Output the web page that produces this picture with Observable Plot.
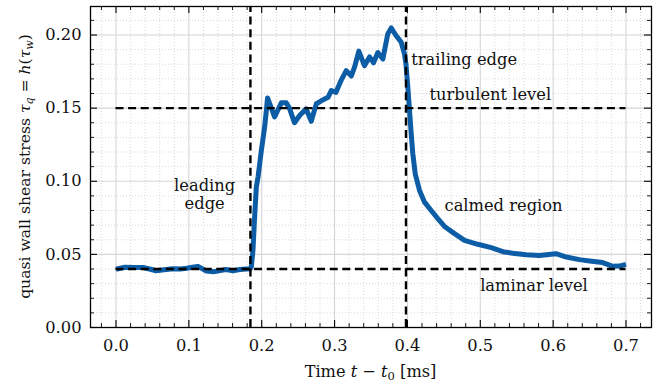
<!DOCTYPE html>
<html>
<head>
<meta charset="utf-8">
<script src="https://cdn.jsdelivr.net/npm/d3@7"></script>
<script src="https://cdn.jsdelivr.net/npm/@observablehq/plot@0.6"></script>
<style>
  html, body { margin: 0; padding: 0; background: #fff; }
  #chart svg { display: block; }
</style>
</head>
<body>
<div id="chart"></div>
<script>
// ---- data ----
const time = [0, 0.012, 0.025, 0.037, 0.046, 0.055, 0.066, 0.078, 0.088, 0.097, 0.105, 0.1125, 0.124, 0.135, 0.143, 0.151, 0.1605, 0.170, 0.179, 0.184,
  0.1857, 0.188, 0.190, 0.1926, 0.195, 0.1995, 0.204, 0.2063, 0.208, 0.2177, 0.2269, 0.2337, 0.238, 0.245, 0.252, 0.261, 0.268, 0.275, 0.2817, 0.291,
  0.2955, 0.302, 0.309, 0.316, 0.323, 0.3274, 0.3333, 0.341, 0.348, 0.3535, 0.3594, 0.3663, 0.373, 0.3778, 0.3846, 0.3915, 0.396, 0.398, 0.4006, 0.4029,
  0.4052, 0.4074, 0.4107, 0.4166, 0.4235, 0.4326, 0.4417, 0.4509, 0.4646, 0.4783, 0.4966, 0.515, 0.533, 0.5446, 0.563, 0.581, 0.604, 0.618, 0.636, 0.650,
  0.668, 0.682, 0.691, 0.700];
const shear = [0.0398, 0.0412, 0.0410, 0.0410, 0.0400, 0.0388, 0.0395, 0.0402, 0.0400, 0.0405, 0.0412, 0.0418, 0.0386, 0.0382, 0.0390, 0.0396, 0.0388, 0.0396, 0.0400, 0.0402,
  0.0414, 0.0528, 0.0730, 0.0960, 0.1030, 0.1210, 0.1370, 0.1480, 0.1570, 0.1440, 0.1536, 0.1536, 0.1500, 0.1400, 0.1450, 0.1495, 0.1410, 0.1530, 0.1550, 0.1574,
  0.1620, 0.1608, 0.1690, 0.1756, 0.1720, 0.1780, 0.1890, 0.1790, 0.1850, 0.1810, 0.1880, 0.1836, 0.2007, 0.2048, 0.1995, 0.1950, 0.1870, 0.1800, 0.1640, 0.1483,
  0.1324, 0.1188, 0.1051, 0.0937, 0.0857, 0.0800, 0.0744, 0.0691, 0.0642, 0.0596, 0.0569, 0.0546, 0.0516, 0.0508, 0.0498, 0.0493, 0.0505, 0.0482, 0.0464, 0.0455,
  0.0444, 0.0418, 0.0420, 0.0432];

const levelValues = [0.15, 0.04];        // turbulent level, laminar level
const levelSpan = [0, 0.7];              // extent of the level lines
const edgeTimes = [0.1845, 0.398];       // leading edge, trailing edge

const xTicks = [0, 0.1, 0.2, 0.3, 0.4, 0.5, 0.6, 0.7];
const xTickLabels = ["0.0", "0.1", "0.2", "0.3", "0.4", "0.5", "0.6", "0.7"];
const yTicks = [0, 0.05, 0.10, 0.15, 0.20];
const yTickLabels = ["0.00", "0.05", "0.10", "0.15", "0.20"];

const annoText = ["leading", "edge", "trailing edge", "turbulent level", "calmed region", "laminar level"];
const annoX = [0.1217, 0.1217, 0.4052, 0.4303, 0.4509, 0.4998];
const annoY = [0.0969, 0.0846, 0.183, 0.1591, 0.0835, 0.0285];
const annoAnchor = ["middle", "middle", "start", "start", "start", "start"];

// ---- layout ----
const W = 671, H = 388;
const mL = 90, mR = 20, mT = 6, mB = 61;
const plotW = W - mL - mR, plotH = H - mT - mB;
const xDomain = [-0.035, 0.735];
const yDomain = [0, 0.2195];

const series = time.map((t, i) => ({t, v: shear[i]}));
const annos = annoText.map((s, i) => ({s, x: annoX[i], y: annoY[i], a: annoAnchor[i]}));

const isMajor = (v, step) => Math.abs(v / step - Math.round(v / step)) < 1e-6;
const xMinor = d3.range(-1, 37).map(i => +(i * 0.02).toFixed(4)).filter(v => !isMajor(v, 0.1));
const yMinor = d3.range(0, 22).map(i => +(i * 0.01).toFixed(4)).filter(v => !isMajor(v, 0.05));

const fontFamily = "'DejaVu Serif', serif";
const ink = "#000";
const fs = 16.3;

const chart = Plot.plot({
  width: W,
  height: H,
  marginLeft: mL,
  marginRight: mR,
  marginTop: mT,
  marginBottom: mB,
  style: {fontFamily, fontSize: fs + "px", background: "#fff", color: "#111", overflow: "visible"},
  x: {domain: xDomain},
  y: {domain: yDomain},
  marks: [
    // minor grid (dotted)
    Plot.gridX(xMinor, {stroke: "#cfcfcf", strokeOpacity: 1, strokeWidth: 0.8, strokeDasharray: "1,2"}),
    Plot.gridY(yMinor, {stroke: "#cfcfcf", strokeOpacity: 1, strokeWidth: 0.8, strokeDasharray: "1,2"}),
    // major grid (solid)
    Plot.gridX(xTicks, {stroke: "#d6d6d6", strokeOpacity: 1, strokeWidth: 1.1}),
    Plot.gridY(yTicks, {stroke: "#d6d6d6", strokeOpacity: 1, strokeWidth: 1.1}),
    // the signal
    Plot.line(series, {x: "t", y: "v", stroke: "#0C5DA5", strokeWidth: 5, strokeLinejoin: "round", strokeLinecap: "butt"}),
    // reference levels and edges
    Plot.ruleY(levelValues, {y: d => d, x1: levelSpan[0], x2: levelSpan[1], stroke: ink, strokeWidth: 2.4, strokeDasharray: "8,4.6"}),
    Plot.ruleX(edgeTimes, {x: d => d, y1: yDomain[0], y2: yDomain[1], stroke: ink, strokeWidth: 2.4, strokeDasharray: "8,4.6"}),
    // annotations
    Plot.text(annos.filter(d => d.a === "middle"), {x: "x", y: "y", text: "s", textAnchor: "middle", lineAnchor: "middle", fontSize: fs, fill: "#111"}),
    Plot.text(annos.filter(d => d.a === "start"), {x: "x", y: "y", text: "s", textAnchor: "start", lineAnchor: "middle", fontSize: fs, fill: "#111"}),
    // inward ticks on all four sides
    Plot.tickX(xTicks, {x: d => d, insetTop: plotH - 7, stroke: ink, strokeWidth: 1.1}),
    Plot.tickX(xTicks, {x: d => d, insetBottom: plotH - 7, stroke: ink, strokeWidth: 1.1}),
    Plot.tickX(xMinor, {x: d => d, insetTop: plotH - 4, stroke: ink, strokeWidth: 0.9}),
    Plot.tickX(xMinor, {x: d => d, insetBottom: plotH - 4, stroke: ink, strokeWidth: 0.9}),
    Plot.tickY(yTicks, {y: d => d, insetRight: plotW - 7, stroke: ink, strokeWidth: 1.1}),
    Plot.tickY(yTicks, {y: d => d, insetLeft: plotW - 7, stroke: ink, strokeWidth: 1.1}),
    Plot.tickY(yMinor, {y: d => d, insetRight: plotW - 4, stroke: ink, strokeWidth: 0.9}),
    Plot.tickY(yMinor, {y: d => d, insetLeft: plotW - 4, stroke: ink, strokeWidth: 0.9}),
    Plot.frame({stroke: ink, strokeWidth: 1.3}),
    // tick labels
    Plot.axisX(xTicks, {tickSize: 0, tickPadding: 12, fontSize: fs, tickFormat: d => xTickLabels[xTicks.indexOf(d)], label: null}),
    Plot.axisY(yTicks, {tickSize: 0, tickPadding: 9, fontSize: fs, tickFormat: d => yTickLabels[yTicks.indexOf(d)], label: null})
  ]
});

document.getElementById("chart").appendChild(chart);

// axis titles with math styling
const svg = d3.select(chart);
const xl = svg.append("text")
  .attr("x", mL + plotW / 2).attr("y", 377)
  .attr("text-anchor", "middle")
  .attr("font-family", fontFamily).attr("font-size", 16.2).attr("fill", "#111");
xl.append("tspan").text("Time ");
xl.append("tspan").attr("font-style", "italic").text("t");
xl.append("tspan").text(" \u2212 ");
xl.append("tspan").attr("font-style", "italic").text("t");
xl.append("tspan").attr("font-size", 11.5).attr("dy", 3).text("0");
xl.append("tspan").attr("dy", -3).text(" [ms]");

const yl = svg.append("text")
  .attr("transform", `translate(30,${mT + plotH / 2}) rotate(-90)`)
  .attr("text-anchor", "middle")
  .attr("font-family", fontFamily).attr("font-size", 15.6).attr("fill", "#111");
yl.append("tspan").text("quasi wall shear stress ");
yl.append("tspan").attr("font-style", "italic").text("\u03c4");
yl.append("tspan").attr("font-style", "italic").attr("font-size", 11).attr("dy", 3).text("q");
yl.append("tspan").attr("dy", -3).text(" = ");
yl.append("tspan").attr("font-style", "italic").text("h");
yl.append("tspan").text("(");
yl.append("tspan").attr("font-style", "italic").text("\u03c4");
yl.append("tspan").attr("font-style", "italic").attr("font-size", 11).attr("dy", 3).text("w");
yl.append("tspan").attr("dy", -3).text(")");
</script>
</body>
</html>
